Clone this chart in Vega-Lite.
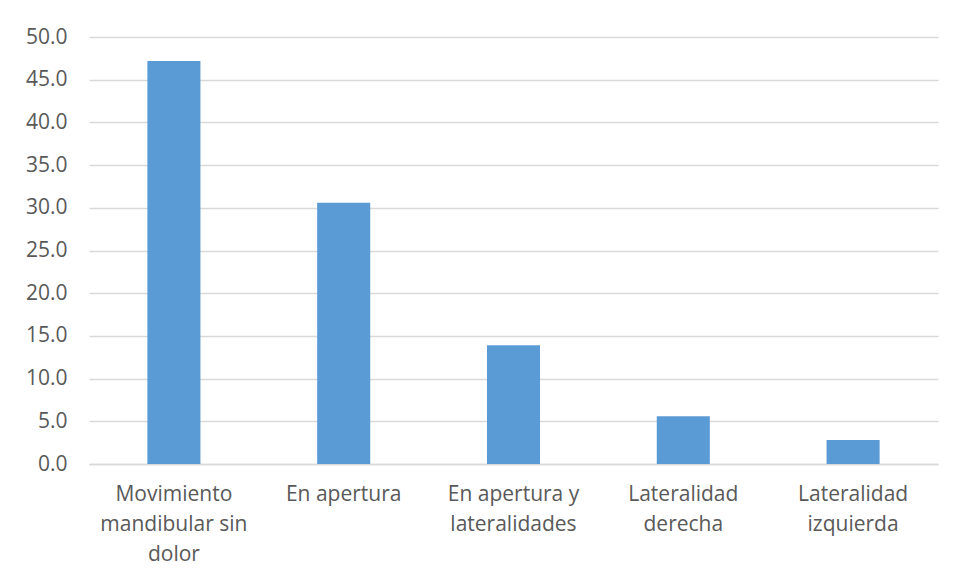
{
  "$schema": "https://vega.github.io/schema/vega-lite/v6.json",
  "autosize": {"type": "none"},
  "width": 849,
  "height": 427,
  "padding": {"left": 89, "top": 37, "right": 17, "bottom": 114},
  "background": "white",
  "data": {
    "values": [
      {"categoria": "Movimiento mandibular sin dolor", "valor": 47.2},
      {"categoria": "En apertura", "valor": 30.6},
      {"categoria": "En apertura y lateralidades", "valor": 13.9},
      {"categoria": "Lateralidad derecha", "valor": 5.6},
      {"categoria": "Lateralidad izquierda", "valor": 2.8}
    ]
  },
  "mark": {"type": "bar", "color": "#5b9bd5"},
  "encoding": {
    "x": {
      "field": "categoria",
      "type": "nominal",
      "sort": null,
      "scale": {"paddingInner": 0.6875, "paddingOuter": 0.34375},
      "axis": {
        "title": null,
        "labelAngle": 0,
        "ticks": false,
        "domainColor": "#d9d9d9",
        "domainWidth": 1.5,
        "labelPadding": 19,
        "labelFont": "Open Sans",
        "labelFontSize": 21,
        "labelColor": "#595959",
        "labelLineHeight": 30,
        "labelBaseline": "top",
        "labelLimit": 300,
        "labelExpr": "datum.label == 'Movimiento mandibular sin dolor' ? ['Movimiento', 'mandibular sin', 'dolor'] : datum.label == 'En apertura y lateralidades' ? ['En apertura y', 'lateralidades'] : datum.label == 'Lateralidad derecha' ? ['Lateralidad', 'derecha'] : datum.label == 'Lateralidad izquierda' ? ['Lateralidad', 'izquierda'] : datum.label"
      }
    },
    "y": {
      "field": "valor",
      "type": "quantitative",
      "scale": {"domain": [0, 50], "nice": false},
      "axis": {
        "title": null,
        "values": [0, 5, 10, 15, 20, 25, 30, 35, 40, 45, 50],
        "format": ".1f",
        "domain": false,
        "ticks": false,
        "gridColor": "#d9d9d9",
        "gridWidth": 1.5,
        "labelPadding": 22,
        "labelFont": "Open Sans",
        "labelFontSize": 21,
        "labelColor": "#595959"
      }
    }
  },
  "config": {"view": {"stroke": null}}
}
